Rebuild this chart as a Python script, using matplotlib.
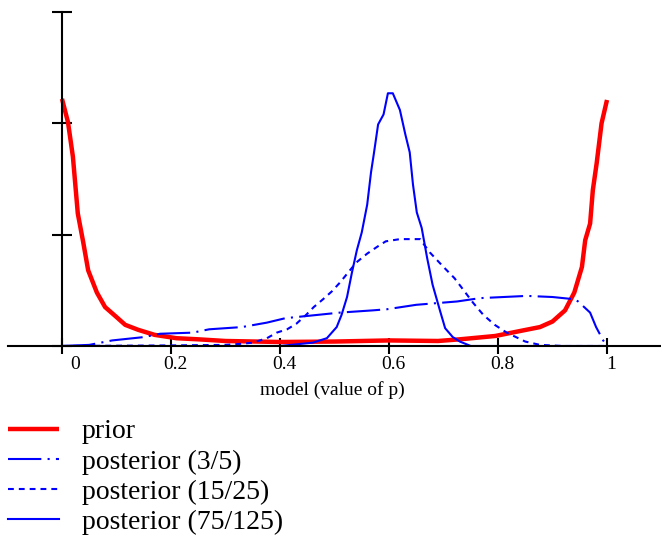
import numpy as np
import matplotlib
matplotlib.use('Agg')
import matplotlib.pyplot as plt
from matplotlib.lines import Line2D
from matplotlib.transforms import ScaledTranslation

plt.rcParams['font.family'] = ['Liberation Serif', 'DejaVu Serif']

# values
prior_x = [0.0, 0.011, 0.02, 0.029, 0.039, 0.048, 0.064, 0.079, 0.10, 0.116,
           0.14, 0.17, 0.21, 0.25, 0.30, 0.40, 0.50, 0.60, 0.69, 0.73, 0.795,
           0.846, 0.877, 0.90, 0.923, 0.94, 0.954, 0.96, 0.969, 0.974, 0.981,
           0.99, 1.0]
prior_y = [2.22, 2.01, 1.70, 1.19, 0.93, 0.68, 0.48, 0.35, 0.26, 0.19,
           0.145, 0.10, 0.07, 0.06, 0.045, 0.036, 0.04, 0.05, 0.045, 0.06, 0.09,
           0.14, 0.17, 0.22, 0.32, 0.48, 0.71, 0.95, 1.10, 1.40, 1.64,
           2.00, 2.21]

post5_x = [0.0, 0.05, 0.092, 0.15, 0.18, 0.24, 0.27, 0.33, 0.376, 0.41, 0.45,
           0.51, 0.57, 0.596, 0.65, 0.725, 0.767, 0.853, 0.90, 0.94, 0.947,
           0.969, 0.98, 0.993, 1.0]
post5_y = [0.0, 0.01, 0.05, 0.08, 0.11, 0.12, 0.15, 0.17, 0.21, 0.25, 0.27,
           0.30, 0.32, 0.33, 0.37, 0.40, 0.43, 0.45, 0.44, 0.42, 0.40,
           0.30, 0.17, 0.05, 0.0]

post25_x = [0.0, 0.2, 0.30, 0.33, 0.35, 0.376, 0.394, 0.413, 0.43, 0.448,
            0.462, 0.479, 0.495, 0.51, 0.525, 0.54, 0.56, 0.578, 0.594, 0.62,
            0.657, 0.675, 0.70, 0.72, 0.734, 0.754, 0.773, 0.794, 0.816, 0.85,
            0.877, 0.92, 1.0]
post25_y = [0.0, 0.005, 0.01, 0.02, 0.03, 0.07, 0.12, 0.15, 0.20, 0.28,
            0.35, 0.42, 0.49, 0.57, 0.66, 0.75, 0.83, 0.89, 0.94, 0.96,
            0.96, 0.84, 0.71, 0.61, 0.52, 0.39, 0.28, 0.19, 0.12, 0.04,
            0.01, 0.0, 0.0]

post125_x = [0.0, 0.40, 0.46, 0.486, 0.504, 0.513, 0.523, 0.532, 0.541, 0.55,
             0.56, 0.567, 0.572, 0.58, 0.59, 0.598, 0.607, 0.62, 0.63, 0.638,
             0.644, 0.651, 0.66, 0.67, 0.68, 0.694, 0.703, 0.717, 0.73, 0.75,
             1.0]
post125_y = [0.0, 0.0, 0.03, 0.07, 0.17, 0.28, 0.44, 0.66, 0.86, 1.02,
             1.27, 1.56, 1.72, 1.99, 2.08, 2.27, 2.27, 2.12, 1.90, 1.74,
             1.45, 1.20, 1.06, 0.79, 0.55, 0.31, 0.16, 0.08, 0.04, 0.0,
             0.0]

labels = ['prior', 'posterior (3/5)', 'posterior (15/25)', 'posterior (75/125)']
xticks = [0, 0.2, 0.4, 0.6, 0.8, 1]
xticklabels = ['0', '0.2', '0.4', '0.6', '0.8', '1']

fig = plt.figure(figsize=(6.61, 5.38), dpi=100)
ax = fig.add_axes([7.5 / 661, 192 / 538, 654 / 661, 334 / 538])

l1, = ax.plot(prior_x, prior_y, color='#ff0000', lw=3.2, solid_capstyle='butt')
l2, = ax.plot(post5_x, post5_y, color='#0000ff', lw=1.5,
              linestyle=(0, (16, 3, 1, 3)))
l3, = ax.plot(post25_x, post25_y, color='#0000ff', lw=1.5,
              linestyle=(0, (2.8, 2.4)))
l4, = ax.plot(post125_x, post125_y, color='#0000ff', lw=1.5)

ax.set_xlim(-0.1, 1.1)
ax.set_ylim(0, 3)
for s in ['top', 'right']:
    ax.spines[s].set_visible(False)
ax.spines['left'].set_position(('data', 0))
ax.spines['left'].set_linewidth(1.5)
ax.spines['bottom'].set_linewidth(1.5)

ax.set_xticks(xticks)
ax.set_xticklabels(xticklabels, fontsize=14)
ax.set_yticks([0, 1, 2, 3])
ax.set_yticklabels([])
ax.tick_params(axis='x', direction='inout', length=11, width=1.5, pad=2)
ax.tick_params(axis='y', direction='inout', length=14, width=1.5)
ax.set_xlabel('model (value of p)', fontsize=14)
ax.xaxis.set_label_coords(0.496, -0.105)

# tick labels sit a little right of their ticks in the original
for i, t in enumerate(ax.get_xticklabels()):
    dx = 13 if i == 0 else 4
    t.set_transform(t.get_transform() + ScaledTranslation(dx / 100, 0, fig.dpi_scale_trans))

fig.legend([l1, l2, l3, l4], labels, loc='upper left',
           bbox_to_anchor=(8 / 661, 1 - 419 / 538), frameon=False,
           fontsize=20, handlelength=1.85, handletextpad=0.8,
           labelspacing=0.17, borderpad=0, borderaxespad=0)

fig.savefig('out.png', dpi=100)
